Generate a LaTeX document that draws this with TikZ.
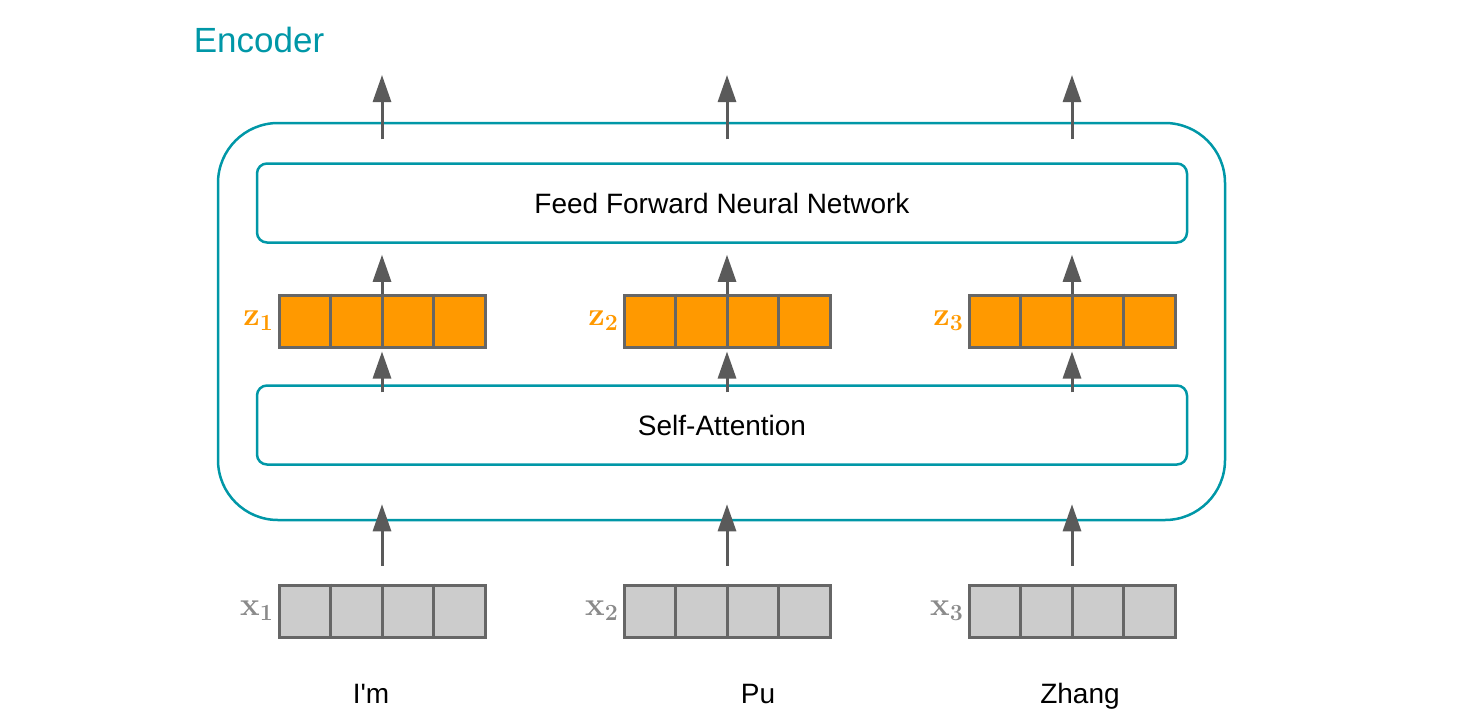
\RequirePackage{fix-cm}
\documentclass[tikz,border=0pt]{standalone}
\usepackage[no-math]{fontspec}
\setmainfont{Liberation Sans}
\usepackage{amsmath,amssymb}
\usepackage{tikz}
\usetikzlibrary{arrows.meta}
\definecolor{EncTeal}{HTML}{0097A7}
\definecolor{VecOrange}{HTML}{FF9900}
\definecolor{VecGrey}{HTML}{CCCCCC}
\definecolor{CellLine}{HTML}{666666}
\definecolor{ArrGrey}{HTML}{5A5A5A}
\definecolor{LabGrey}{HTML}{8A8A8A}
\newcommand{\vlab}[1]{{\fontsize{33}{40}\selectfont\boldmath$\mathbf{#1}$}}

\begin{document}
\begin{tikzpicture}[x=1pt,y=-1pt,
    outerbox/.style={draw=EncTeal,line width=2.5pt,rounded corners=60pt,minimum width=1007pt,minimum height=397pt,inner sep=0pt},
    layer/.style={draw=EncTeal,line width=2.5pt,rounded corners=10pt,minimum width=930pt,minimum height=79pt,inner sep=0pt,font=\fontsize{28}{34}\selectfont},
    zvec/.style={draw=CellLine,fill=VecOrange,line width=3pt,minimum width=206pt,minimum height=52pt,inner sep=0pt},
    xvec/.style={zvec,fill=VecGrey},
    word/.style={font=\fontsize{28}{34}\selectfont,anchor=base},
    arr/.style={draw=ArrGrey,line width=3pt,-{Triangle[length=27pt,width=18pt]}}]
  \useasboundingbox (0,0) rectangle (1462,726);
  \node[text=EncTeal,font=\fontsize{35}{42}\selectfont] (title) at (259,40) {Encoder};
  \node[outerbox] (enc) at (721.5,321.5) {};
  \node[layer] (ffn) at (722,203) {Feed Forward Neural Network};
  \node[layer] (sa) at (722,425) {Self-Attention};
  \foreach \i/\cx in {1/382,2/727,3/1072}{
    \node[zvec] (z\i) at (\cx,321) {};
    \node[xvec] (x\i) at (\cx,611) {};
    \foreach \d in {-51.5,0,51.5}{
      \draw[CellLine,line width=3pt] ([xshift=\d]z\i.north) -- ([xshift=\d]z\i.south);
      \draw[CellLine,line width=3pt] ([xshift=\d]x\i.north) -- ([xshift=\d]x\i.south);
    }
    \node[text=VecOrange,anchor=east,inner sep=4pt] (zl\i) at (z\i.west) {\vlab{z_{\i}}};
    \node[text=LabGrey,anchor=east,inner sep=4pt] (xl\i) at (x\i.west) {\vlab{x_{\i}}};
    \coordinate (out\i) at (\cx,75);
    \draw[arr] ([yshift=18pt]x\i.north) -- ([yshift=17pt]enc.south -| x\i);
    \draw[arr] ([yshift=-8pt]sa.north -| z\i) -- ([yshift=-3pt]z\i.south);
    \draw[arr] (z\i.north) -- ([yshift=-11pt]ffn.south -| z\i);
    \draw[arr] ([yshift=23pt]ffn.north -| z\i) -- (out\i);
  }
  \node[word] (w1) at (371,703) {I\textquotesingle m};
  \node[word] (w2) at (758,703) {Pu};
  \node[word] (w3) at (1080,703) {Zhang};
\end{tikzpicture}
\end{document}
